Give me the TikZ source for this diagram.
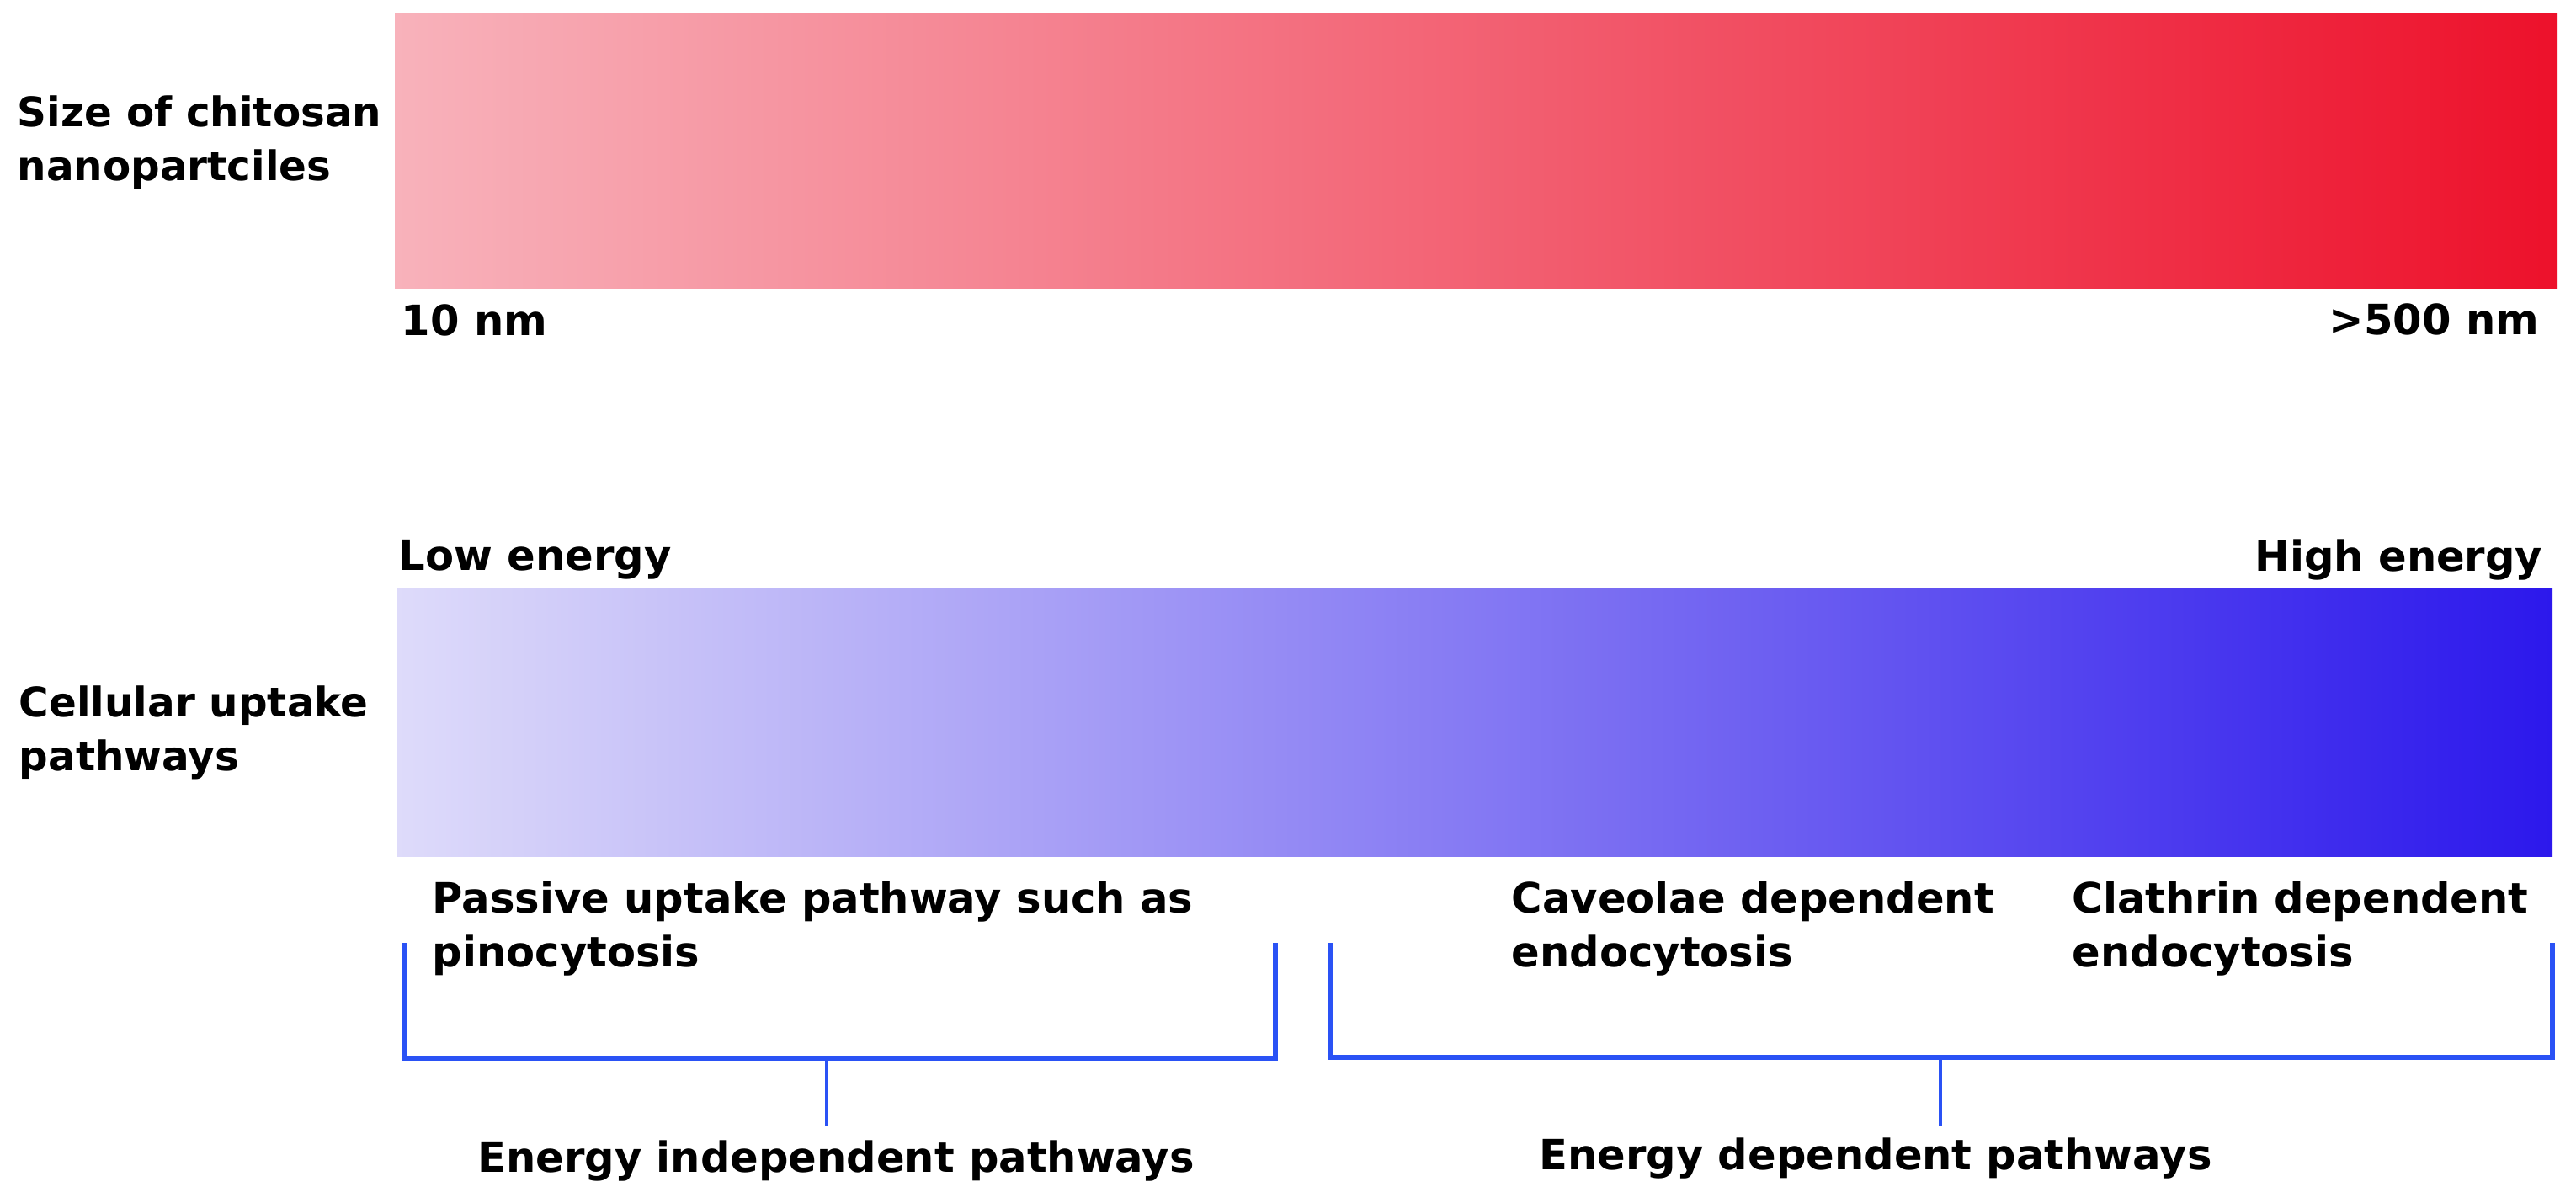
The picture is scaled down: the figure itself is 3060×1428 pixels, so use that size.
\documentclass[tikz,border=0pt]{standalone}
\usepackage{fontspec}
\setmainfont{DejaVu Sans}
\definecolor{pinkL}{RGB}{248,178,187}
\definecolor{redR}{RGB}{237,17,43}
\definecolor{lavL}{RGB}{222,219,250}
\definecolor{blueR}{RGB}{44,24,236}
\definecolor{brk}{RGB}{42,82,245}
\tikzset{
  lbl/.style={font=\bfseries\fontsize{12.4}{16}\selectfont, inner sep=0pt, align=left},
  sidelbl/.style={lbl, font=\bfseries\fontsize{12.1}{16}\selectfont},
  brkline/.style={draw=brk, line width=1.3pt, line cap=butt},
  brkbase/.style={draw=brk, line width=1.7pt},
  brkstem/.style={draw=brk, line width=0.8pt}
}
\begin{document}
\begin{tikzpicture}[x=0.25pt,y=-0.25pt]
\useasboundingbox (0,0) rectangle (3060,1428);
% bars
\shade[left color=pinkL, right color=redR] (469,15) rectangle (3038,342);
\shade[left color=lavL, right color=blueR] (471,699) rectangle (3032,1017);
% left labels (base anchor = baseline of last line)
\node (size) [sidelbl, anchor=base west] at (20,214) {Size of chitosan\\nanopartciles};
\node (cell) [sidelbl, anchor=base west] at (22,915) {Cellular uptake\\pathways};
% scale labels
\node (ten) [lbl, anchor=base west] at (476,398) {10 nm};
\node (five) [lbl, anchor=base east] at (3017,397) {>500 nm};
\node (low) [lbl, anchor=base west] at (473,677) {Low energy};
\node (high) [lbl, anchor=base east] at (3021,678) {High energy};
% pathway labels
\node (passive) [lbl, anchor=base west] at (513,1148) {Passive uptake pathway such as\\pinocytosis};
\node (cav) [lbl, anchor=base west] at (1795,1148) {Caveolae dependent\\endocytosis};
\node (cla) [lbl, anchor=base west] at (2461,1148) {Clathrin dependent\\endocytosis};
\node (eind) [lbl, anchor=base] at (993,1392) {Energy independent pathways};
\node (edep) [lbl, anchor=base] at (2228,1389) {Energy dependent pathways};
% bracket coordinates
\coordinate (lA) at (480,1120);
\coordinate (lB) at (1515,1120);
\coordinate (lM) at (982,1257);
\coordinate (lS) at (982,1337);
\coordinate (rA) at (1580,1120);
\coordinate (rB) at (3032,1120);
\coordinate (rM) at (2305,1256);
\coordinate (rS) at (2305,1337);
% left bracket
\draw[brkline] (lA) -- (lA |- lM);
\draw[brkline] (lB) -- (lB |- lM);
\draw[brkbase, line cap=rect] (lA |- lM) -- (lB |- lM);
\draw[brkstem] (lM) -- (lS);
% right bracket
\draw[brkline] (rA) -- (rA |- rM);
\draw[brkline] (rB) -- (rB |- rM);
\draw[brkbase, line cap=rect] (rA |- rM) -- (rB |- rM);
\draw[brkstem] (rM) -- (rS);
\end{tikzpicture}
\end{document}
